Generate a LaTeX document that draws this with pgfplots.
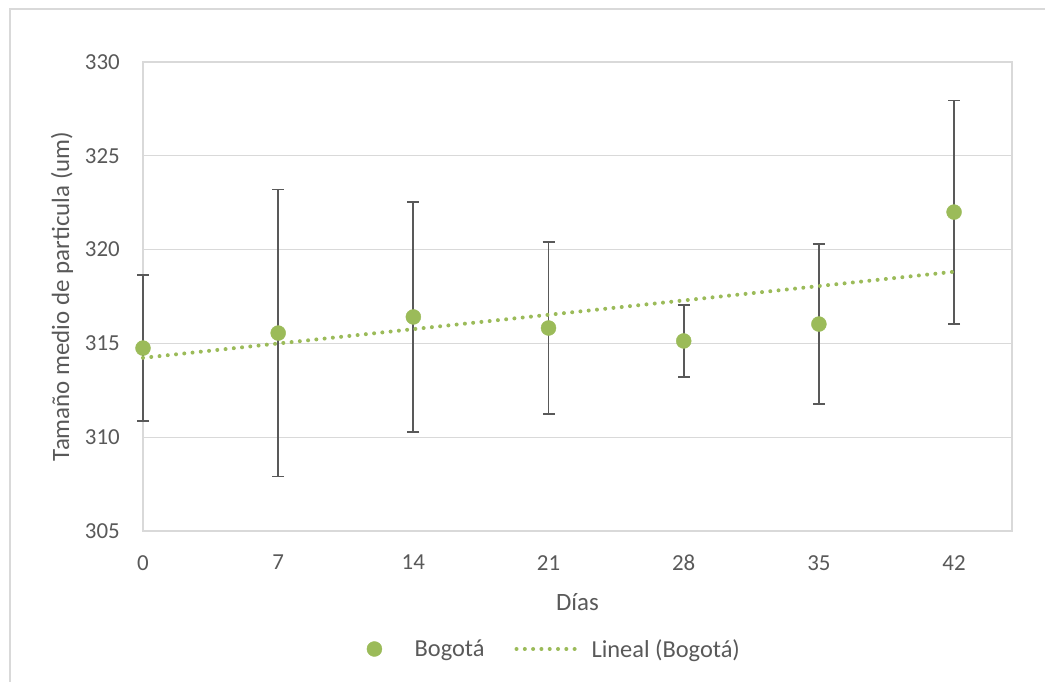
\documentclass[border=0pt]{standalone}
\usepackage{pgfplots}
\pgfplotsset{compat=1.18}
\usepackage{fontspec}
\setmainfont{Carlito}

\definecolor{txtgray}{HTML}{595959}
\definecolor{gridgray}{HTML}{D9D9D9}
\definecolor{bargray}{HTML}{595959}
\definecolor{olive}{HTML}{9BBB59}

\begin{document}
\begin{tikzpicture}[x=1bp,y=1bp]
\useasboundingbox (0,0) rectangle (1045,682);
% chart frame
\draw[gridgray, line width=1.3bp] (10,0) -- (10,673) -- (1045,673);
\begin{axis}[
  at={(143bp,151bp)}, anchor=south west,
  scale only axis,
  width=869bp, height=469bp,
  xmin=0, xmax=45, ymin=305, ymax=330,
  xtick={0,7,14,21,28,35,42},
  ytick={305,310,...,330},
  major tick length=0pt,
  ymajorgrids,
  grid style={gridgray, line width=1.3bp},
  axis line style={gridgray, line width=1.3bp},
  /pgf/number format/assume math mode=true,
  tick label style={font=\fontsize{23}{27}\selectfont, text=txtgray},
  yticklabel style={inner sep=0pt, anchor=east, xshift=-23bp},
  xticklabel style={inner sep=0pt, anchor=north, yshift=-24bp},
  label style={font=\fontsize{25}{30}\selectfont, text=txtgray},
  xlabel={Días},
  ylabel={Tamaño medio de particula (um)},
  xlabel style={at={(axis description cs:0.5,-0.151)}, anchor=center},
  ylabel style={at={(axis description cs:-0.0932,0.5)}, anchor=center},
  legend columns=2,
  legend style={draw=none, fill=none, font=\fontsize{24.5}{28}\selectfont, text=txtgray,
    at={(axis description cs:0.473,-0.2516)}, anchor=center,
    /tikz/every even column/.append style={column sep=28bp}},
  clip=false,
]
% measured mean size with standard deviation
\addplot[only marks, mark=*, mark size=7.5bp, olive, mark options={fill=olive, draw=olive},
  legend image code/.code={\path (-8bp,0bp) (38bp,0bp); \fill[olive] (0bp,0bp) circle (7.5bp);},
  error bars/.cd, y dir=both, y explicit,
  error bar style={bargray, line width=1.8bp},
  error mark options={rotate=90, mark size=6bp, line width=1.8bp, bargray},
  ]
  table[x=x, y=y, y error=e] {
  x  y       e
  0  314.75  3.90
  7  315.55  7.65
  14 316.41  6.13
  21 315.82  4.58
  28 315.13  1.92
  35 316.03  4.27
  42 322.00  5.95
  };
% least-squares trend line
\addplot[olive, line width=4bp, line cap=round, dash pattern=on 0bp off 8.3bp,
  legend image code/.code={\draw[olive, line width=4bp, line cap=round,
    dash pattern=on 0bp off 8.3bp] (0bp,0bp) -- (63bp,0bp);}]
  coordinates {(0,314.23) (42,318.82)};
\legend{Bogotá, \hspace{8bp}Lineal (Bogotá)}
\end{axis}
\end{tikzpicture}
\end{document}
